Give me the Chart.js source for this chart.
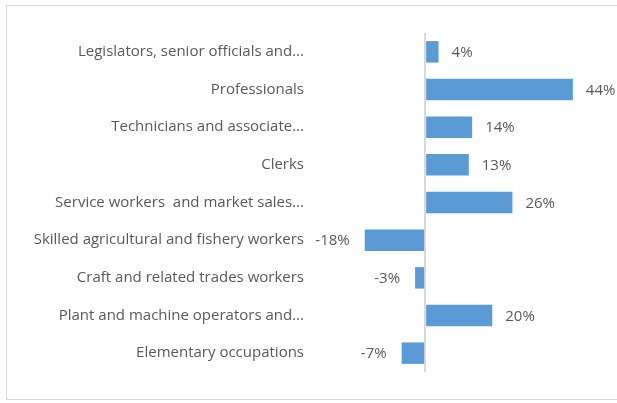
<!DOCTYPE html>
<html>
<head>
<meta charset="utf-8">
<script src="https://cdn.jsdelivr.net/npm/chart.js@4"></script>
<style>
  body { margin: 0; background: #fff; }
  #frame {
    position: absolute; left: 6px; top: 5px;
    width: 620px; height: 395px;
    border: 1px solid #d9d9d9; box-sizing: border-box;
  }
  #chart { position: absolute; left: 0; top: 0; }
</style>
</head>
<body>
<div id="frame"></div>
<canvas id="chart" width="617" height="403"></canvas>
<script>
//occupation categories, top to bottom
const categories = [
    'Legislators, senior officials and...',
    'Professionals',
    'Technicians and associate...',
    'Clerks',
    'Service workers  and market sales...',
    'Skilled agricultural and fishery workers',
    'Craft and related trades workers',
    'Plant and machine operators and...',
    'Elementary occupations',
];

//percent change per category
const changeValues = [4, 44, 14, 13, 26, -18, -3, 20, -7];

const textColor = '#595959';
const labelFont = { family: 'Open Sans', size: 15 };

//draws the "44%" style labels just outside each bar end
const valueLabels = {
    id: 'valueLabels',
    afterDatasetsDraw(chart) {
        const ctx = chart.ctx;
        const meta = chart.getDatasetMeta(0);
        ctx.save();
        ctx.font = `${labelFont.size}px ${labelFont.family}`;
        ctx.fillStyle = textColor;
        ctx.textBaseline = 'middle';
        meta.data.forEach((bar, i) => {
            const v = changeValues[i];
            if (v >= 0) {
                ctx.textAlign = 'left';
                ctx.fillText(`${v}%`, bar.x + 13, bar.y + 1);
            } else {
                ctx.textAlign = 'right';
                ctx.fillText(`${v}%`, bar.x - 15, bar.y + 1);
            }
        });
        ctx.restore();
    },
};

new Chart(document.getElementById('chart'), {
    type: 'bar',
    data: {
        labels: categories,
        datasets: [
            {
                data: changeValues,
                backgroundColor: '#5b9bd5',
                borderWidth: 0,
                categoryPercentage: 1,
                barPercentage: 0.57,
            },
        ],
    },
    options: {
        indexAxis: 'y',
        responsive: false,
        animation: false,
        layout: {
            padding: { top: 33, bottom: 31, right: 24, left: 0 },
        },
        plugins: {
            legend: { display: false },
            tooltip: { enabled: false },
        },
        scales: {
            x: {
                min: -20,
                max: 50,
                ticks: { display: false, stepSize: 10 },
                border: { display: false },
                grid: {
                    drawTicks: false,
                    lineWidth: 2,
                    color: (c) => (c.tick && c.tick.value === 0 ? '#d9d9d9' : 'rgba(0,0,0,0)'),
                },
            },
            y: {
                border: { display: false },
                grid: { display: false, drawTicks: false },
                ticks: {
                    color: textColor,
                    font: labelFont,
                    padding: 54,
                    autoSkip: false,
                },
                //fixed axis width; drop the vertical padding that the big tick padding adds
                afterFit: (scale) => {
                    scale.width = 358;
                    scale.paddingTop = 0;
                    scale.paddingBottom = 0;
                },
            },
        },
    },
    plugins: [valueLabels],
});
</script>
</body>
</html>
